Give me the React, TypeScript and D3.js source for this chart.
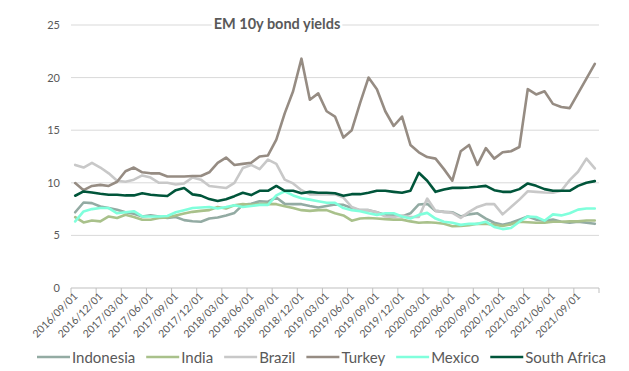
import React, { useEffect, useRef } from "react";
import * as d3 from "d3";

const seriesNames = ["Indonesia", "India", "Brazil", "Turkey", "Mexico", "South Africa"];
const seriesColors = ["#93ABA3", "#A9C18B", "#C8C8C8", "#968C83", "#80FFDC", "#00553A"];

const startMonth = new Date(2016, 8, 1);
const endMonthExclusive = new Date(2021, 11, 1);

const indonesia = [7.2, 8.13, 8.07, 7.75, 7.6, 7.44, 7.2, 7.05, 6.8, 6.9, 6.8, 6.65, 6.75, 6.45, 6.35, 6.3, 6.6, 6.7, 6.9, 7.14, 7.9, 8.0, 8.25, 8.2, 8.6, 8.0, 7.97, 7.97, 7.8, 7.65, 7.8, 7.94, 7.9, 7.6, 7.4, 7.4, 7.2, 6.95, 6.95, 6.8, 7.1, 7.94, 8.0, 7.33, 7.24, 7.2, 6.8, 7.0, 7.1, 6.6, 6.2, 6.0, 6.2, 6.5, 6.8, 6.5, 6.4, 6.5, 6.3, 6.2, 6.3, 6.2, 6.1];
const india = [6.74, 6.23, 6.42, 6.33, 6.8, 6.65, 6.96, 6.74, 6.49, 6.49, 6.65, 6.7, 6.9, 7.08, 7.24, 7.33, 7.4, 7.7, 7.56, 7.87, 7.97, 7.9, 7.97, 8.0, 7.97, 7.78, 7.6, 7.4, 7.33, 7.4, 7.4, 7.1, 6.9, 6.4, 6.6, 6.65, 6.6, 6.55, 6.5, 6.5, 6.33, 6.2, 6.25, 6.2, 6.1, 5.87, 5.9, 5.97, 6.1, 6.1, 6.0, 5.9, 6.05, 6.3, 6.25, 6.2, 6.2, 6.3, 6.3, 6.33, 6.33, 6.42, 6.42];
const brazil = [11.7, 11.45, 11.9, 11.45, 10.9, 10.2, 10.1, 10.3, 10.7, 10.5, 10.0, 10.0, 9.84, 9.94, 10.5, 10.3, 9.7, 9.6, 9.5, 10.0, 11.4, 11.7, 11.3, 12.2, 11.8, 10.3, 9.94, 9.3, 8.9, 8.9, 8.9, 8.9, 8.6, 7.7, 7.4, 7.4, 7.2, 6.8, 6.75, 6.9, 6.75, 6.75, 8.5, 7.33, 7.24, 7.14, 6.67, 7.24, 7.7, 7.97, 7.97, 7.0, 7.7, 8.4, 9.2, 9.14, 9.08, 9.05, 9.24, 10.25, 11.05, 12.3, 11.37];
const turkey = [9.97, 9.3, 9.7, 9.8, 9.7, 10.1, 11.1, 11.45, 11.0, 10.9, 10.9, 10.6, 10.6, 10.6, 10.65, 10.65, 11.0, 11.9, 12.4, 11.7, 11.8, 11.9, 12.5, 12.6, 14.1, 16.6, 18.7, 21.8, 17.9, 18.5, 16.8, 16.3, 14.3, 15.0, 17.6, 20.0, 18.9, 16.8, 15.4, 16.3, 13.6, 12.9, 12.45, 12.3, 11.3, 10.2, 13.0, 13.6, 11.7, 13.3, 12.3, 12.9, 13.0, 13.4, 18.9, 18.4, 18.7, 17.5, 17.2, 17.1, 18.5, 19.9, 21.3];
const mexico = [6.33, 7.28, 7.5, 7.6, 7.6, 7.1, 7.2, 7.3, 6.8, 6.8, 6.8, 6.85, 7.2, 7.4, 7.6, 7.65, 7.7, 7.55, 7.7, 7.87, 7.7, 7.8, 7.9, 7.9, 8.8, 9.2, 8.8, 8.54, 8.4, 8.25, 8.1, 8.1, 7.6, 7.4, 7.3, 7.1, 6.95, 7.1, 7.1, 6.8, 6.6, 6.95, 7.14, 6.6, 6.3, 6.2, 6.0, 6.1, 6.1, 6.3, 5.8, 5.6, 5.7, 6.3, 6.8, 6.75, 6.4, 7.0, 6.9, 7.1, 7.45, 7.55, 7.55];
const southAfrica = [8.77, 9.18, 9.08, 8.96, 8.86, 8.86, 8.8, 8.8, 9.0, 8.86, 8.8, 8.75, 9.3, 9.5, 8.9, 8.78, 8.45, 8.27, 8.44, 8.73, 9.05, 8.83, 9.24, 9.24, 9.7, 9.24, 9.24, 9.0, 9.14, 9.05, 9.05, 9.0, 8.76, 8.92, 8.92, 9.05, 9.24, 9.24, 9.14, 9.05, 9.24, 10.95, 10.2, 9.14, 9.37, 9.52, 9.52, 9.56, 9.62, 9.71, 9.3, 9.14, 9.14, 9.4, 9.94, 9.71, 9.4, 9.24, 9.24, 9.24, 9.71, 10.0, 10.16];

const yTicks = [0, 5, 10, 15, 20, 25];
const title = "EM 10y bond yields";

const W = 629;
const H = 371;
const FONT = "Lato, 'Open Sans', 'DejaVu Sans', sans-serif";

export default function App() {
  const ref = useRef<SVGSVGElement | null>(null);

  useEffect(() => {
    const svg = d3.select(ref.current);
    svg.selectAll("*").remove();

    const fmt = d3.timeFormat("%Y/%m/%d");
    const categories = d3.timeMonth.range(startMonth, endMonthExclusive).map(fmt);
    const allSeries = [indonesia, india, brazil, turkey, mexico, southAfrica];

    const left = 71, right = 599, top = 25, bottom = 288;
    const x = d3.scaleBand<string>().domain(categories).range([left, right]).paddingInner(0).paddingOuter(0);
    const y = d3.scaleLinear().domain([0, 25]).range([bottom, top]);
    const cx = (c: string) => (x(c) as number) + x.bandwidth() / 2;

    svg.append("rect").attr("width", W).attr("height", H).attr("fill", "#fff");

    // gridlines
    svg.append("g").selectAll("line").data(yTicks.filter((t) => t > 0)).join("line")
      .attr("x1", left).attr("x2", right)
      .attr("y1", (d) => y(d)).attr("y2", (d) => y(d))
      .attr("stroke", "#D9D9D9").attr("stroke-width", 1);

    // y labels
    svg.append("g").selectAll("text").data(yTicks).join("text")
      .attr("x", 60).attr("y", (d) => y(d) + 4)
      .attr("text-anchor", "end")
      .attr("font-family", FONT).attr("font-size", 11).attr("fill", "#595959")
      .text((d) => String(d));

    // x axis line
    svg.append("line").attr("x1", left).attr("x2", right).attr("y1", bottom).attr("y2", bottom)
      .attr("stroke", "#BFBFBF").attr("stroke-width", 1);
    const tickIdx = d3.range(0, categories.length + 1, 3);
    svg.append("g").selectAll("line").data(tickIdx).join("line")
      .attr("x1", (i) => left + i * x.bandwidth()).attr("x2", (i) => left + i * x.bandwidth())
      .attr("y1", bottom).attr("y2", bottom + 5)
      .attr("stroke", "#BFBFBF").attr("stroke-width", 1);

    // x labels
    const labelCats = categories.filter((_, i) => i % 3 === 0);
    svg.append("g").selectAll("text").data(labelCats).join("text")
      .attr("transform", (d) => `translate(${cx(d) + 3},${bottom + 9}) rotate(-45)`)
      .attr("text-anchor", "end")
      .attr("font-family", FONT).attr("font-size", 10.5).attr("fill", "#595959")
      .text((d) => d);

    // lines
    const line = d3.line<number>()
      .x((_, i) => cx(categories[i]))
      .y((d) => y(d));
    svg.append("g").selectAll("path").data(allSeries).join("path")
      .attr("d", (d) => line(d))
      .attr("fill", "none")
      .attr("stroke", (_, i) => seriesColors[i])
      .attr("stroke-width", 2.6)
      .attr("stroke-linejoin", "round")
      .attr("stroke-linecap", "round");

    // title with white background
    const tg = svg.append("g");
    const tt = tg.append("text")
      .attr("x", 277).attr("y", 29)
      .attr("text-anchor", "middle")
      .attr("font-family", FONT).attr("font-size", 14.5).attr("font-weight", "bold").attr("fill", "#595959")
      .text(title);
    const bb = (tt.node() as SVGTextElement).getBBox();
    tg.insert("rect", "text").attr("x", bb.x - 2).attr("y", bb.y).attr("width", bb.width + 4).attr("height", bb.height).attr("fill", "#fff");

    // legend
    const lg = svg.append("g");
    let lx = 37;
    const ly = 357;
    seriesNames.forEach((name, i) => {
      lg.append("line").attr("x1", lx).attr("x2", lx + 33).attr("y1", ly).attr("y2", ly)
        .attr("stroke", seriesColors[i]).attr("stroke-width", 2.6);
      const t = lg.append("text").attr("x", lx + 35).attr("y", ly + 5.5)
        .attr("font-family", FONT).attr("font-size", 15).attr("fill", "#595959").text(name);
      const w = (t.node() as SVGTextElement).getComputedTextLength();
      lx += 35 + w + 11;
    });
  }, []);

  return (
    <svg ref={ref} width={W} height={H} style={{ display: "block", position: "absolute", left: 0, top: 0 }} />
  );
}
